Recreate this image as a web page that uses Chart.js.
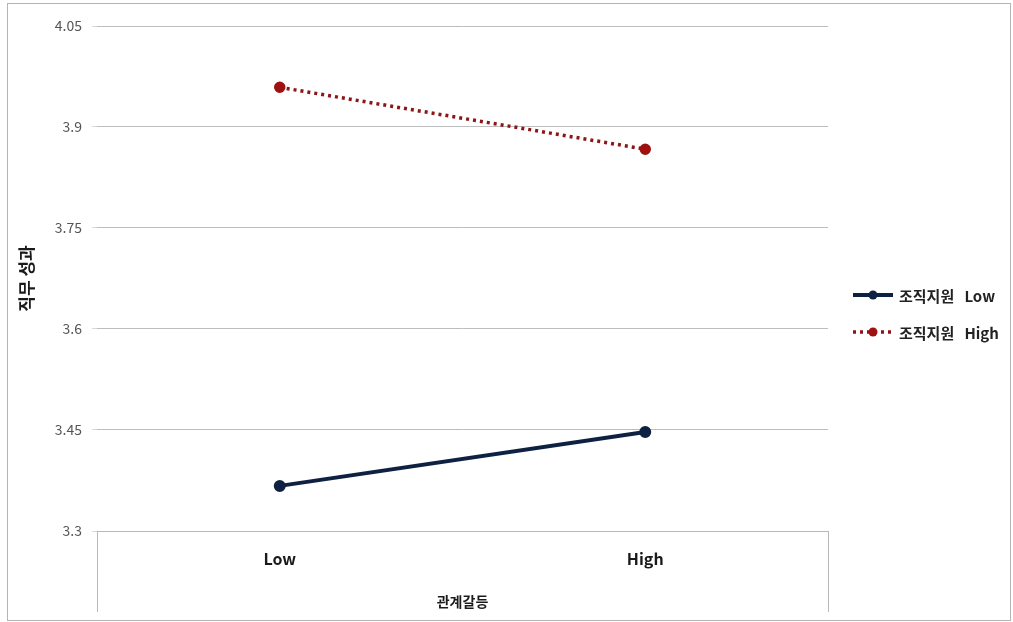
<!DOCTYPE html>
<html>
<head>
<meta charset="utf-8">
<script src="https://cdn.jsdelivr.net/npm/chart.js@4"></script>
<style>
  html, body { margin: 0; padding: 0; background: #fff; }
  #wrap { position: relative; width: 1013px; height: 622px; }
  #frame { position: absolute; left: 7px; top: 3px; width: 1002px; height: 616px; border: 1px solid #b4b4b4; pointer-events: none; }
</style>
</head>
<body>
<div id="wrap">
  <canvas id="chart" width="1013" height="622"></canvas>
  <div id="frame"></div>
</div>
<script>
const categories = ["Low", "High"];
const seriesNames = ["조직지원   Low", "조직지원   High"];
const lowSupport = [3.367, 3.447];
const highSupport = [3.959, 3.867];
const yTicks = [3.3, 3.45, 3.6, 3.75, 3.9, 4.05];

const narrow = "'Liberation Sans Narrow', 'Noto Sans CJK KR', sans-serif";

// box under the plot (Excel style category axis) + legend with line and dot
const extras = {
  id: "extras",
  afterDraw(chart) {
    const { ctx, chartArea } = chart;
    ctx.save();
    ctx.strokeStyle = "#b8b8b8";
    ctx.lineWidth = 1;
    ctx.beginPath();
    ctx.moveTo(chartArea.left + 0.5, chartArea.bottom);
    ctx.lineTo(chartArea.left + 0.5, 612);
    ctx.moveTo(chartArea.right + 0.5, chartArea.bottom);
    ctx.lineTo(chartArea.right + 0.5, 612);
    ctx.stroke();

    // legend
    const rows = [295, 332];
    chart.data.datasets.forEach((ds, i) => {
      const y = rows[i];
      ctx.strokeStyle = ds.borderColor;
      ctx.lineWidth = ds.borderWidth;
      ctx.setLineDash(ds.borderDash || []);
      ctx.beginPath();
      ctx.moveTo(853, y);
      ctx.lineTo(893, y);
      ctx.stroke();
      ctx.setLineDash([]);
      ctx.fillStyle = ds.pointBackgroundColor;
      ctx.beginPath();
      ctx.arc(873, y, 4.5, 0, Math.PI * 2);
      ctx.fill();
      ctx.fillStyle = "#222";
      ctx.font = "bold 15px " + narrow;
      ctx.textBaseline = "middle";
      ctx.fillText(ds.label, 899, y + 1);
    });
    ctx.restore();
  },
};

new Chart(document.getElementById("chart"), {
  type: "line",
  data: {
    labels: categories,
    datasets: [
      {
        label: seriesNames[0],
        data: lowSupport,
        borderColor: "#0f2142",
        backgroundColor: "#0f2142",
        pointBackgroundColor: "#0f2142",
        pointBorderColor: "#0f2142",
        borderWidth: 4,
        pointRadius: 4,
        tension: 0,
      },
      {
        label: seriesNames[1],
        data: highSupport,
        borderColor: "#8e1515",
        backgroundColor: "#8e1515",
        pointBackgroundColor: "#a01010",
        pointBorderColor: "#a01010",
        borderWidth: 3.5,
        borderDash: [3, 4],
        pointRadius: 4,
        tension: 0,
      },
    ],
  },
  options: {
    responsive: false,
    animation: false,
    layout: { padding: { top: 26, right: 185, bottom: 0, left: 0 } },
    plugins: {
      legend: { display: false },
      tooltip: { enabled: false },
    },
    scales: {
      x: {
        offset: true,
        grid: { display: false, drawTicks: false },
        border: { display: true, color: "#b8b8b8", width: 1 },
        ticks: {
          padding: 18,
          color: "#1a1a1a",
          font: { family: narrow, size: 16, weight: "bold" },
        },
        title: {
          display: true,
          text: "관계갈등",
          color: "#1a1a1a",
          font: { family: "'Noto Sans CJK KR', sans-serif", size: 14, weight: "bold" },
          padding: { top: 12, bottom: 12 },
        },
        afterFit(scale) {
          scale.height = 91;
        },
      },
      y: {
        min: 3.3,
        max: 4.05,
        afterBuildTicks(scale) {
          scale.ticks = yTicks.map((v) => ({ value: v }));
        },
        grid: { color: "#bdbdbd", lineWidth: 1, tickLength: 5, tickColor: "#d8d8d8" },
        border: { display: false },
        ticks: {
          padding: 10,
          color: "#555",
          font: { family: narrow, size: 14 },
          callback: (v) => String(v),
        },
        title: {
          display: true,
          text: "직무 성과",
          color: "#1a1a1a",
          font: { family: "'Noto Sans CJK KR', sans-serif", size: 17, weight: "bold" },
          padding: { top: 16, bottom: 0 },
        },
        afterFit(scale) {
          scale.width = 97;
        },
      },
    },
  },
  plugins: [extras],
});
</script>
</body>
</html>
